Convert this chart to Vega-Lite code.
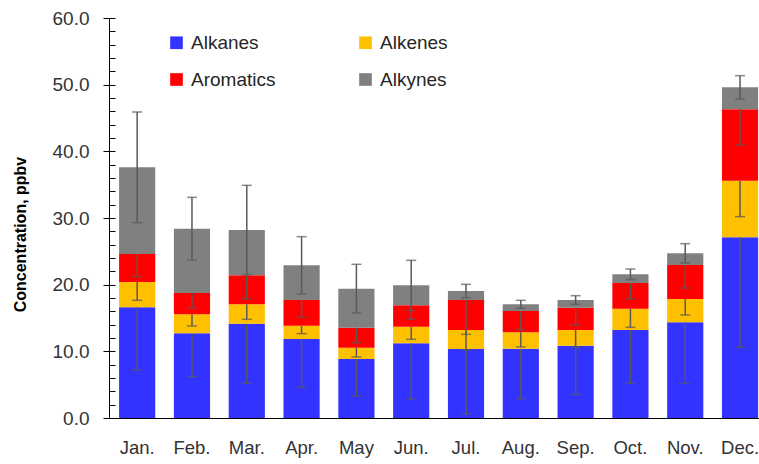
{
  "$schema": "https://vega.github.io/schema/vega-lite/v6.json",
  "width": 650,
  "height": 400,
  "autosize": {"type": "none"},
  "padding": {"left": 109, "top": 18, "right": 0, "bottom": 46},
  "background": "white",
  "config": {
    "view": {"stroke": null},
    "font": "Liberation Sans",
    "axis": {"grid": false},
    "legend": {
      "orient": "none",
      "direction": "horizontal",
      "legendX": 58,
      "legendY": 15,
      "columns": 2,
      "columnPadding": 80,
      "rowPadding": 17,
      "symbolType": "square",
      "symbolSize": 160,
      "symbolStrokeWidth": 0,
      "labelFontSize": 19,
      "labelColor": "#262626",
      "labelOffset": 5,
      "padding": 0
    }
  },
  "data": {
    "values": [
      {"month": "Jan.", "type": "Alkanes", "value": 16.6, "err": 9.4},
      {"month": "Jan.", "type": "Alkenes", "value": 3.8, "err": 2.75},
      {"month": "Jan.", "type": "Aromatics", "value": 4.2, "err": 3.4},
      {"month": "Jan.", "type": "Alkynes", "value": 13.0, "err": 8.3},
      {"month": "Feb.", "type": "Alkanes", "value": 12.7, "err": 6.5},
      {"month": "Feb.", "type": "Alkenes", "value": 2.85, "err": 1.75},
      {"month": "Feb.", "type": "Aromatics", "value": 3.2, "err": 2.25},
      {"month": "Feb.", "type": "Alkynes", "value": 9.65, "err": 4.7},
      {"month": "Mar.", "type": "Alkanes", "value": 14.15, "err": 8.95},
      {"month": "Mar.", "type": "Alkenes", "value": 2.9, "err": 2.25},
      {"month": "Mar.", "type": "Aromatics", "value": 4.35, "err": 3.55},
      {"month": "Mar.", "type": "Alkynes", "value": 6.8, "err": 6.7},
      {"month": "Apr.", "type": "Alkanes", "value": 11.85, "err": 7.25},
      {"month": "Apr.", "type": "Alkenes", "value": 2.0, "err": 1.2},
      {"month": "Apr.", "type": "Aromatics", "value": 3.85, "err": 2.55},
      {"month": "Apr.", "type": "Alkynes", "value": 5.2, "err": 4.3},
      {"month": "May", "type": "Alkanes", "value": 8.85, "err": 5.55},
      {"month": "May", "type": "Alkenes", "value": 1.7, "err": 1.4},
      {"month": "May", "type": "Aromatics", "value": 3.0, "err": 2.25},
      {"month": "May", "type": "Alkynes", "value": 5.85, "err": 3.65},
      {"month": "Jun.", "type": "Alkanes", "value": 11.2, "err": 8.35},
      {"month": "Jun.", "type": "Alkenes", "value": 2.5, "err": 1.9},
      {"month": "Jun.", "type": "Aromatics", "value": 3.2, "err": 2.05},
      {"month": "Jun.", "type": "Alkynes", "value": 3.0, "err": 3.75},
      {"month": "Jul.", "type": "Alkanes", "value": 10.35, "err": 9.75},
      {"month": "Jul.", "type": "Alkenes", "value": 2.85, "err": 3.0},
      {"month": "Jul.", "type": "Aromatics", "value": 4.5, "err": 5.15},
      {"month": "Jul.", "type": "Alkynes", "value": 1.35, "err": 1.0},
      {"month": "Aug.", "type": "Alkanes", "value": 10.4, "err": 7.5},
      {"month": "Aug.", "type": "Alkenes", "value": 2.45, "err": 2.2},
      {"month": "Aug.", "type": "Aromatics", "value": 3.2, "err": 2.8},
      {"month": "Aug.", "type": "Alkynes", "value": 1.0, "err": 0.6},
      {"month": "Sep.", "type": "Alkanes", "value": 10.85, "err": 7.3},
      {"month": "Sep.", "type": "Alkenes", "value": 2.35, "err": 2.6},
      {"month": "Sep.", "type": "Aromatics", "value": 3.35, "err": 2.6},
      {"month": "Sep.", "type": "Alkynes", "value": 1.15, "err": 0.65},
      {"month": "Oct.", "type": "Alkanes", "value": 13.2, "err": 8.0},
      {"month": "Oct.", "type": "Alkenes", "value": 3.2, "err": 2.8},
      {"month": "Oct.", "type": "Aromatics", "value": 3.85, "err": 2.4},
      {"month": "Oct.", "type": "Alkynes", "value": 1.3, "err": 0.8},
      {"month": "Nov.", "type": "Alkanes", "value": 14.35, "err": 9.15},
      {"month": "Nov.", "type": "Alkenes", "value": 3.5, "err": 2.4},
      {"month": "Nov.", "type": "Aromatics", "value": 5.1, "err": 3.45},
      {"month": "Nov.", "type": "Alkynes", "value": 1.75, "err": 1.45},
      {"month": "Dec.", "type": "Alkanes", "value": 27.1, "err": 16.5},
      {"month": "Dec.", "type": "Alkenes", "value": 8.5, "err": 5.4},
      {"month": "Dec.", "type": "Aromatics", "value": 10.7, "err": 5.35},
      {"month": "Dec.", "type": "Alkynes", "value": 3.3, "err": 1.75}
    ]
  },
  "transform": [
    {"calculate": "indexof(['Alkanes','Alkenes','Aromatics','Alkynes'], datum.type)", "as": "ord"},
    {"stack": "value", "groupby": ["month"], "sort": [{"field": "ord", "order": "ascending"}], "as": ["y0", "y1"]},
    {"calculate": "datum.y1 - datum.err", "as": "lo"}
  ],
  "resolve": {"axis": {"y": "independent"}},
  "layer": [
    {
      "mark": {"type": "bar"},
      "encoding": {
        "x": {
          "field": "month", "type": "nominal",
          "sort": ["Jan.", "Feb.", "Mar.", "Apr.", "May", "Jun.", "Jul.", "Aug.", "Sep.", "Oct.", "Nov.", "Dec."],
          "scale": {"type": "band", "paddingInner": 0.34, "paddingOuter": 0.1, "align": 0.92},
          "axis": {"title": null, "labelAngle": 0, "ticks": false, "domainColor": "black", "domainWidth": 1, "labelFontSize": 18.5, "labelColor": "#333333", "labelPadding": 20}
        },
        "y": {
          "field": "y0", "type": "quantitative",
          "scale": {"domain": [0, 60], "nice": false, "zero": true},
          "axis": {
            "orient": "left", "title": "Concentration, ppbv", "titleFontSize": 16, "titleFontWeight": "bold", "titleColor": "black",
            "titleX": -89, "titleY": 216, "titleAngle": -90, "titleAlign": "center", "titleBaseline": "middle",
            "values": [0, 10, 20, 30, 40, 50, 60], "format": ".1f", "tickSize": 6, "tickColor": "black", "domainColor": "black",
            "labelFontSize": 19, "labelColor": "#333333", "labelPadding": 14
          }
        },
        "y2": {"field": "y1"},
        "color": {
          "field": "type", "type": "nominal",
          "scale": {"domain": ["Alkanes", "Alkenes", "Aromatics", "Alkynes"], "range": ["#3333FF", "#FFC000", "#FF0000", "#808080"]},
          "legend": {"title": null}
        }
      }
    },
    {
      "transform": [{"filter": "datum.type !== 'Alkynes'"}],
      "mark": {"type": "rule", "color": "#595959", "strokeWidth": 1.5},
      "encoding": {
        "x": {"field": "month", "type": "nominal", "sort": ["Jan.", "Feb.", "Mar.", "Apr.", "May", "Jun.", "Jul.", "Aug.", "Sep.", "Oct.", "Nov.", "Dec."]},
        "y": {
          "field": "lo", "type": "quantitative",
          "axis": {"orient": "left", "values": [0, 2, 4, 6, 8, 10, 12, 14, 16, 18, 20, 22, 24, 26, 28, 30, 32, 34, 36, 38, 40, 42, 44, 46, 48, 50, 52, 54, 56, 58, 60], "tickSize": -6, "tickColor": "black", "labels": false, "domain": false, "title": null}
        },
        "y2": {"field": "y1"}
      }
    },
    {
      "transform": [{"filter": "datum.type !== 'Alkynes'"}],
      "mark": {"type": "tick", "color": "#595959", "thickness": 1.5, "size": 10, "orient": "horizontal"},
      "encoding": {
        "x": {"field": "month", "type": "nominal", "sort": ["Jan.", "Feb.", "Mar.", "Apr.", "May", "Jun.", "Jul.", "Aug.", "Sep.", "Oct.", "Nov.", "Dec."]},
        "y": {"field": "lo", "type": "quantitative", "axis": null}
      }
    },
    {
      "transform": [{"filter": "datum.type === 'Alkynes'"}],
      "mark": {"type": "errorbar", "ticks": true, "size": 10, "thickness": 1.5, "color": "#595959"},
      "encoding": {
        "x": {"field": "month", "type": "nominal", "sort": ["Jan.", "Feb.", "Mar.", "Apr.", "May", "Jun.", "Jul.", "Aug.", "Sep.", "Oct.", "Nov.", "Dec."]},
        "y": {"field": "y1", "type": "quantitative", "axis": null},
        "yError": {"field": "err"}
      }
    }
  ]
}
